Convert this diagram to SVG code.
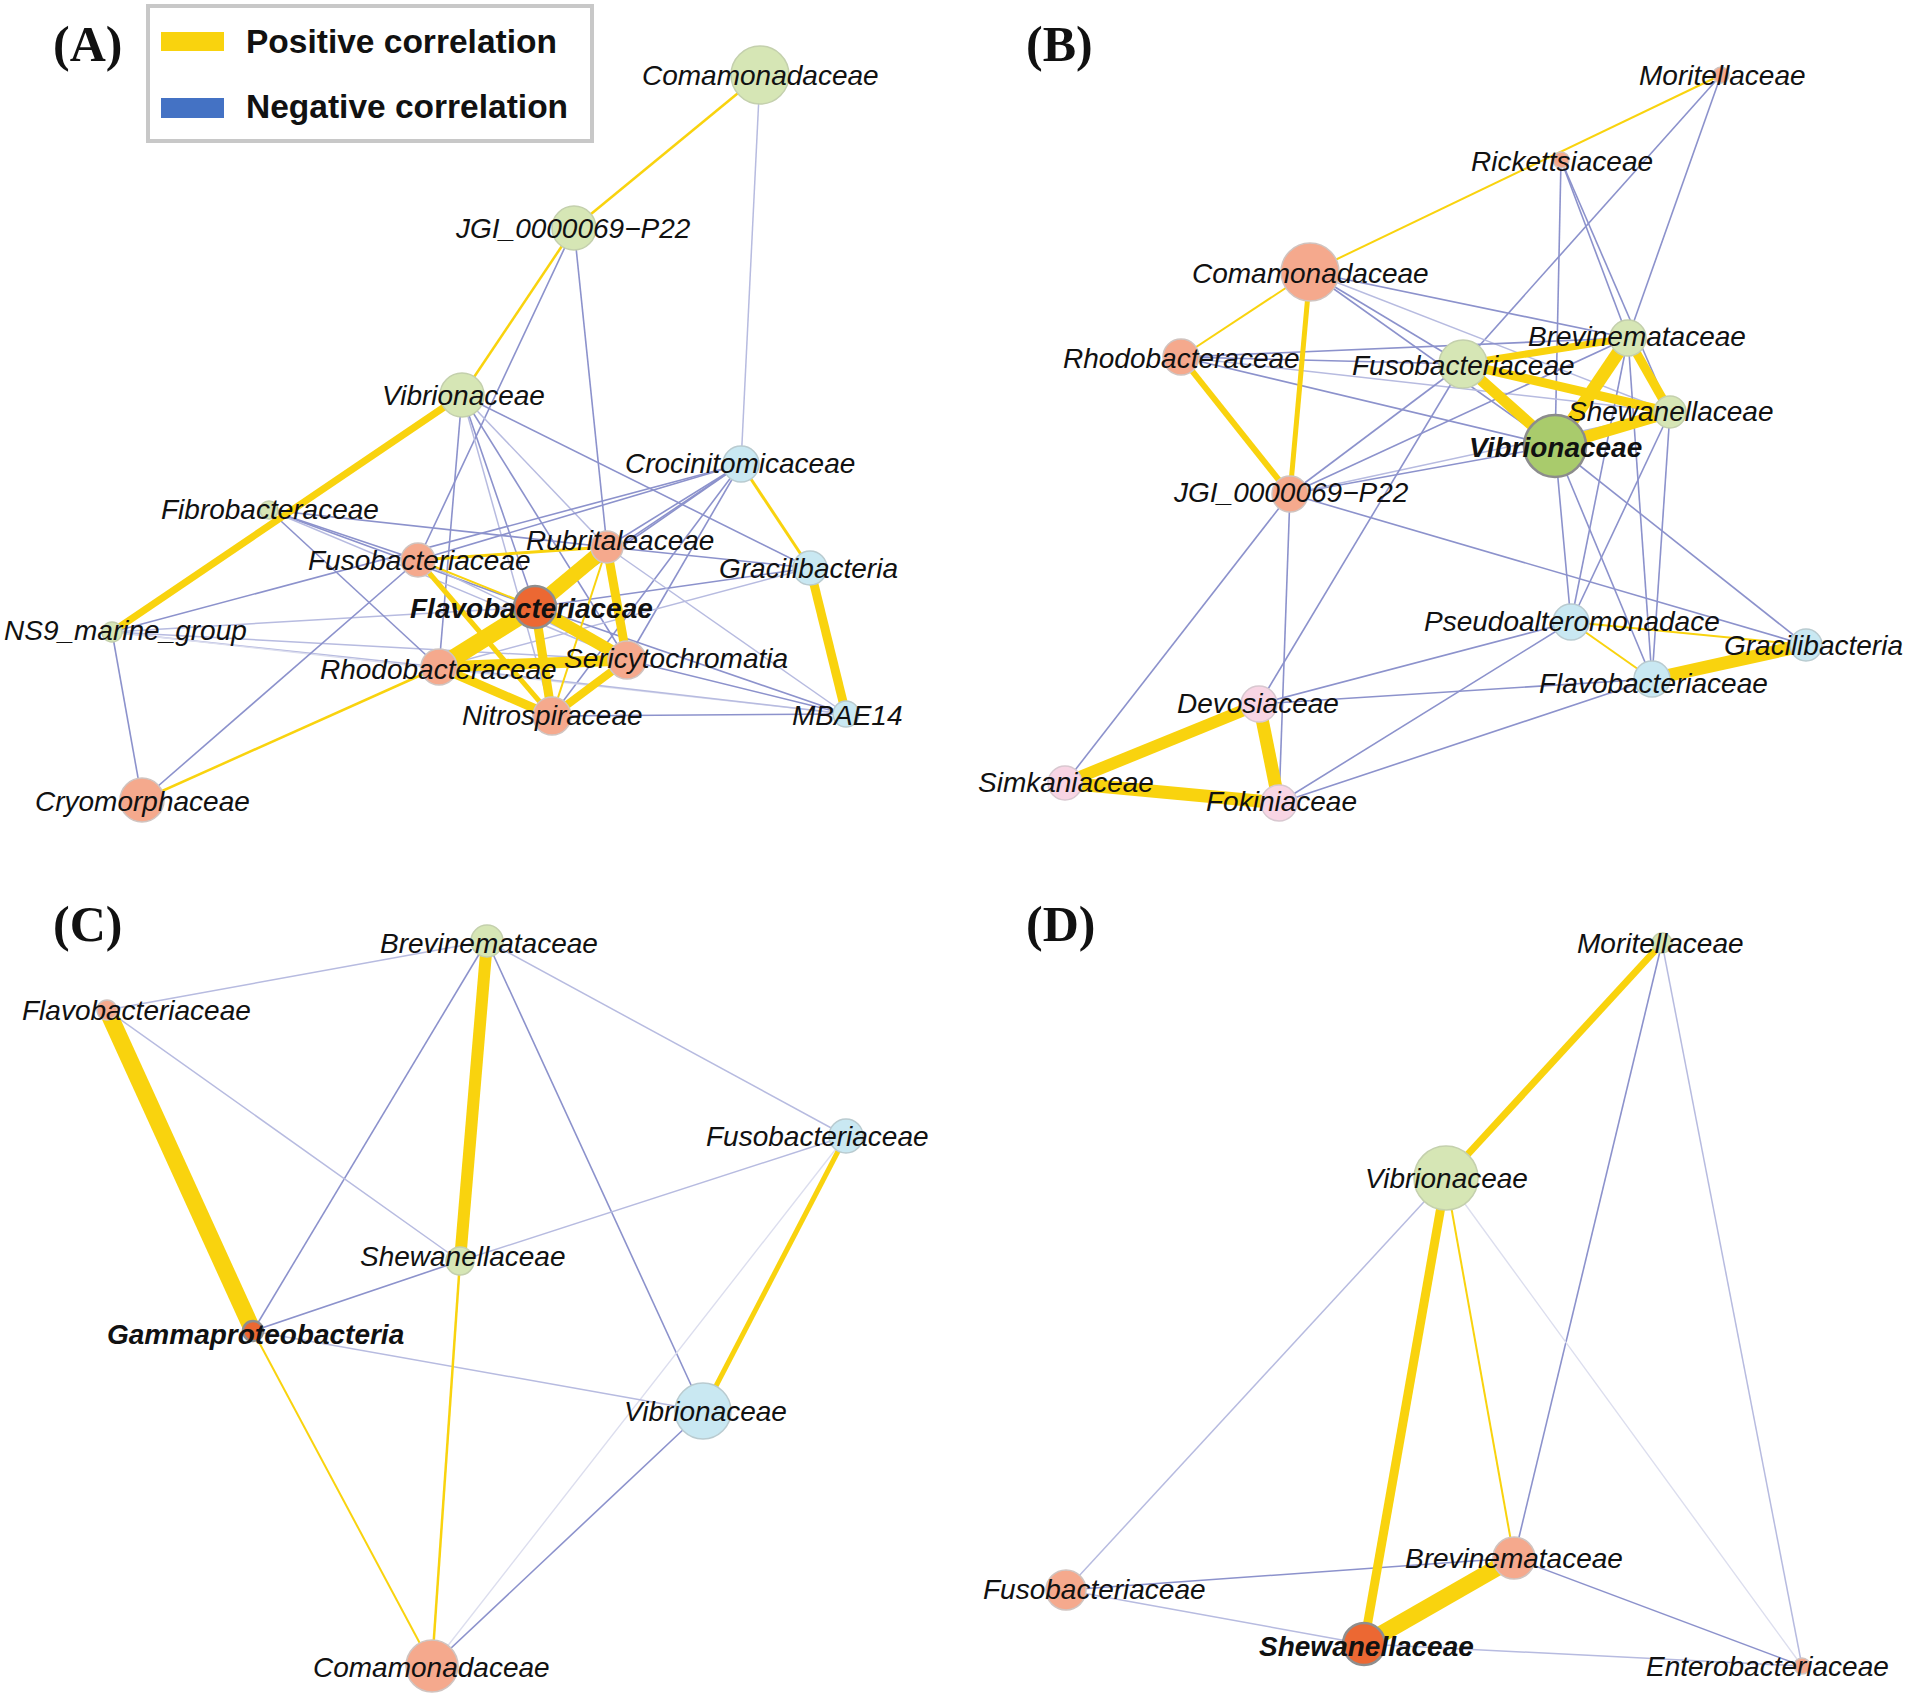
<svg xmlns="http://www.w3.org/2000/svg" width="1908" height="1696" viewBox="0 0 1908 1696">
<style>
.p{stroke:#f9d30e;fill:none}
.n{stroke:#8c92cc;stroke-width:1.6;fill:none}
.nl{stroke:#b7bbe0;stroke-width:1.5;fill:none}
.nx{stroke:#dcdeee;stroke-width:1.4;fill:none}
.g{fill:#d6e6b5;stroke:#c4d0ad;stroke-width:1.5}
.s{fill:#f5a98d;stroke:#d0c4c0;stroke-width:1.5}
.b{fill:#c9e8f2;stroke:#b9cbd0;stroke-width:1.5}
.k{fill:#f8d5e4;stroke:#d8c8d0;stroke-width:1.5}
.d{fill:#ec6833;stroke:#8e8e8e;stroke-width:2.5}
.vg{fill:#a9cb6c;stroke:#8c8c8c;stroke-width:2.5}
.t{font-family:"Liberation Sans",Arial,sans-serif;font-style:italic;font-size:28px;fill:#111}
.tb{font-weight:bold}
.pl{font-family:"Liberation Serif","Times New Roman",serif;font-weight:bold;font-size:50px;fill:#111}
.lg{font-family:"Liberation Sans",Arial,sans-serif;font-weight:bold;font-size:33.5px;fill:#111}
</style>
<rect width="1908" height="1696" fill="#ffffff"/>

<g id="legend">
<rect x="148" y="6" width="444" height="135" fill="#ffffff" stroke="#c8c8c8" stroke-width="4"/>
<rect x="161" y="32" width="63" height="19" fill="#f9d30e"/>
<rect x="161" y="98" width="63" height="20" fill="#4472c4"/>
<text class="lg" x="246" y="53">Positive correlation</text>
<text class="lg" x="246" y="118">Negative correlation</text>
</g>
<g id="panel-labels">
<text class="pl" x="53" y="61">(A)</text>
<text class="pl" x="1026" y="61">(B)</text>
<text class="pl" x="53" y="941">(C)</text>
<text class="pl" x="1026" y="941">(D)</text>
</g>

<g id="connectors">
<!-- Panel A negative -->
<line class="nl" x1="760" y1="75" x2="741" y2="464"/>
<line class="n" x1="574" y1="228" x2="418" y2="560"/>
<line class="n" x1="574" y1="228" x2="607" y2="547"/>
<line class="n" x1="462" y1="395" x2="439" y2="667"/>
<line class="n" x1="462" y1="395" x2="535" y2="607"/>
<line class="n" x1="462" y1="395" x2="627" y2="660"/>
<line class="nl" x1="462" y1="395" x2="552" y2="716"/>
<line class="nl" x1="462" y1="395" x2="607" y2="547"/>
<line class="n" x1="462" y1="395" x2="810" y2="568"/>
<line class="n" x1="741" y1="464" x2="418" y2="560"/>
<line class="n" x1="741" y1="464" x2="607" y2="547"/>
<line class="n" x1="741" y1="464" x2="535" y2="607"/>
<line class="n" x1="741" y1="464" x2="439" y2="667"/>
<line class="n" x1="741" y1="464" x2="627" y2="660"/>
<line class="n" x1="741" y1="464" x2="552" y2="716"/>
<line class="n" x1="112" y1="632" x2="741" y2="464"/>
<line class="nl" x1="112" y1="632" x2="535" y2="607"/>
<line class="nl" x1="112" y1="632" x2="439" y2="667"/>
<line class="nl" x1="112" y1="632" x2="627" y2="660"/>
<line class="nx" x1="112" y1="632" x2="846" y2="714"/>
<line class="n" x1="112" y1="632" x2="142" y2="800"/>
<line class="n" x1="142" y1="800" x2="418" y2="560"/>
<line class="n" x1="269" y1="510" x2="418" y2="560"/>
<line class="n" x1="269" y1="510" x2="535" y2="607"/>
<line class="n" x1="269" y1="510" x2="607" y2="547"/>
<line class="n" x1="269" y1="510" x2="439" y2="667"/>
<line class="nl" x1="269" y1="510" x2="627" y2="660"/>
<line class="n" x1="607" y1="547" x2="810" y2="568"/>
<line class="n" x1="535" y1="607" x2="810" y2="568"/>
<line class="nl" x1="439" y1="667" x2="810" y2="568"/>
<line class="nl" x1="607" y1="547" x2="846" y2="714"/>
<line class="n" x1="535" y1="607" x2="846" y2="714"/>
<line class="n" x1="627" y1="660" x2="846" y2="714"/>
<line class="n" x1="552" y1="716" x2="846" y2="714" stroke-width="2.5"/>
<line class="nl" x1="439" y1="667" x2="846" y2="714"/>
<line class="nl" x1="418" y1="560" x2="627" y2="660"/>
<!-- Panel A positive -->
<line class="p" x1="760" y1="75" x2="574" y2="228" stroke-width="2.5"/>
<line class="p" x1="574" y1="228" x2="462" y2="395" stroke-width="2.5"/>
<line class="p" x1="462" y1="395" x2="112" y2="632" stroke-width="7"/>
<line class="p" x1="741" y1="464" x2="810" y2="568" stroke-width="3"/>
<line class="p" x1="810" y1="568" x2="846" y2="714" stroke-width="9"/>
<line class="p" x1="142" y1="800" x2="439" y2="667" stroke-width="2.5"/>
<line class="p" x1="418" y1="560" x2="607" y2="547" stroke-width="3"/>
<line class="p" x1="418" y1="560" x2="552" y2="716" stroke-width="5"/>
<line class="p" x1="418" y1="560" x2="535" y2="607" stroke-width="2"/>
<line class="p" x1="607" y1="547" x2="552" y2="716" stroke-width="2"/>
<line class="p" x1="535" y1="607" x2="607" y2="547" stroke-width="15"/>
<line class="p" x1="535" y1="607" x2="439" y2="667" stroke-width="17"/>
<line class="p" x1="535" y1="607" x2="627" y2="660" stroke-width="12"/>
<line class="p" x1="535" y1="607" x2="552" y2="716" stroke-width="9"/>
<line class="p" x1="607" y1="547" x2="627" y2="660" stroke-width="9"/>
<line class="p" x1="439" y1="667" x2="627" y2="660" stroke-width="11"/>
<line class="p" x1="439" y1="667" x2="552" y2="716" stroke-width="9"/>
<line class="p" x1="627" y1="660" x2="552" y2="716" stroke-width="8"/>

<!-- Panel B negative -->
<line class="n" x1="1721" y1="75" x2="1463" y2="364"/>
<line class="n" x1="1721" y1="75" x2="1628" y2="338"/>
<line class="n" x1="1561" y1="160" x2="1555" y2="446"/>
<line class="n" x1="1561" y1="160" x2="1628" y2="338"/>
<line class="n" x1="1561" y1="160" x2="1670" y2="412"/>
<line class="n" x1="1310" y1="272" x2="1463" y2="364"/>
<line class="n" x1="1310" y1="272" x2="1628" y2="338"/>
<line class="nl" x1="1310" y1="272" x2="1670" y2="412"/>
<line class="n" x1="1310" y1="272" x2="1555" y2="446"/>
<line class="n" x1="1181" y1="357" x2="1463" y2="364"/>
<line class="n" x1="1181" y1="357" x2="1628" y2="338"/>
<line class="nl" x1="1181" y1="357" x2="1670" y2="412"/>
<line class="n" x1="1181" y1="357" x2="1555" y2="446"/>
<line class="n" x1="1290" y1="494" x2="1463" y2="364"/>
<line class="n" x1="1290" y1="494" x2="1628" y2="338"/>
<line class="n" x1="1290" y1="494" x2="1555" y2="446"/>
<line class="nl" x1="1290" y1="494" x2="1670" y2="412"/>
<line class="n" x1="1290" y1="494" x2="1806" y2="645"/>
<line class="n" x1="1290" y1="494" x2="1065" y2="783"/>
<line class="n" x1="1290" y1="494" x2="1279" y2="803"/>
<line class="n" x1="1463" y1="364" x2="1259" y2="704"/>
<line class="n" x1="1555" y1="446" x2="1571" y2="622"/>
<line class="n" x1="1555" y1="446" x2="1652" y2="679"/>
<line class="n" x1="1555" y1="446" x2="1806" y2="645"/>
<line class="n" x1="1670" y1="412" x2="1571" y2="622"/>
<line class="n" x1="1670" y1="412" x2="1652" y2="679"/>
<line class="n" x1="1628" y1="338" x2="1571" y2="622"/>
<line class="n" x1="1628" y1="338" x2="1652" y2="679"/>
<line class="n" x1="1571" y1="622" x2="1259" y2="704"/>
<line class="n" x1="1571" y1="622" x2="1279" y2="803"/>
<line class="n" x1="1652" y1="679" x2="1259" y2="704"/>
<line class="n" x1="1652" y1="679" x2="1279" y2="803"/>
<!-- Panel B positive -->
<line class="p" x1="1721" y1="75" x2="1310" y2="272" stroke-width="2"/>
<line class="p" x1="1310" y1="272" x2="1181" y2="357" stroke-width="2"/>
<line class="p" x1="1310" y1="272" x2="1290" y2="494" stroke-width="5"/>
<line class="p" x1="1181" y1="357" x2="1290" y2="494" stroke-width="6"/>
<line class="p" x1="1463" y1="364" x2="1628" y2="338" stroke-width="7"/>
<line class="p" x1="1463" y1="364" x2="1670" y2="412" stroke-width="9"/>
<line class="p" x1="1463" y1="364" x2="1555" y2="446" stroke-width="11"/>
<line class="p" x1="1628" y1="338" x2="1555" y2="446" stroke-width="13"/>
<line class="p" x1="1628" y1="338" x2="1670" y2="412" stroke-width="9"/>
<line class="p" x1="1555" y1="446" x2="1670" y2="412" stroke-width="12"/>
<line class="p" x1="1571" y1="622" x2="1806" y2="645" stroke-width="2"/>
<line class="p" x1="1571" y1="622" x2="1652" y2="679" stroke-width="2"/>
<line class="p" x1="1652" y1="679" x2="1806" y2="645" stroke-width="13"/>
<line class="p" x1="1259" y1="704" x2="1065" y2="783" stroke-width="12"/>
<line class="p" x1="1259" y1="704" x2="1279" y2="803" stroke-width="13"/>
<line class="p" x1="1065" y1="783" x2="1279" y2="803" stroke-width="13"/>

<!-- Panel C negative -->
<line class="nl" x1="487" y1="941" x2="107" y2="1010"/>
<line class="n" x1="487" y1="941" x2="253" y2="1331"/>
<line class="n" x1="487" y1="941" x2="703" y2="1411"/>
<line class="nl" x1="487" y1="941" x2="846" y2="1136"/>
<line class="nl" x1="107" y1="1010" x2="460" y2="1261"/>
<line class="nl" x1="846" y1="1136" x2="460" y2="1261"/>
<line class="nx" x1="846" y1="1136" x2="432" y2="1666"/>
<line class="n" x1="460" y1="1261" x2="253" y2="1331" stroke-width="2"/>
<line class="nl" x1="253" y1="1331" x2="703" y2="1411"/>
<line class="n" x1="703" y1="1411" x2="432" y2="1666"/>
<!-- Panel C positive -->
<line class="p" x1="107" y1="1010" x2="253" y2="1331" stroke-width="17"/>
<line class="p" x1="487" y1="941" x2="460" y2="1261" stroke-width="12"/>
<line class="p" x1="846" y1="1136" x2="703" y2="1411" stroke-width="5"/>
<line class="p" x1="253" y1="1331" x2="432" y2="1666" stroke-width="2"/>
<line class="p" x1="460" y1="1261" x2="432" y2="1666" stroke-width="2.5"/>

<!-- Panel D negative -->
<line class="n" x1="1662" y1="943" x2="1514" y2="1558"/>
<line class="nl" x1="1662" y1="943" x2="1802" y2="1666"/>
<line class="nl" x1="1446" y1="1178" x2="1066" y2="1590"/>
<line class="nx" x1="1446" y1="1178" x2="1802" y2="1666"/>
<line class="n" x1="1066" y1="1590" x2="1514" y2="1558"/>
<line class="nl" x1="1066" y1="1590" x2="1364" y2="1644"/>
<line class="nl" x1="1364" y1="1644" x2="1802" y2="1666"/>
<line class="n" x1="1514" y1="1558" x2="1802" y2="1666"/>
<!-- Panel D positive -->
<line class="p" x1="1662" y1="943" x2="1446" y2="1178" stroke-width="7"/>
<line class="p" x1="1446" y1="1178" x2="1364" y2="1644" stroke-width="9"/>
<line class="p" x1="1446" y1="1178" x2="1514" y2="1558" stroke-width="2"/>
<line class="p" x1="1514" y1="1558" x2="1364" y2="1644" stroke-width="17"/>
</g>

<!-- Panel A nodes -->
<g id="A-Comamonadaceae"><circle class="g" cx="760" cy="75" r="29"/><text class="t" x="642" y="85">Comamonadaceae</text></g>
<g id="A-JGI"><circle class="g" cx="574" cy="228" r="22"/><text class="t" x="456" y="238">JGI_0000069−P22</text></g>
<g id="A-Vibrionaceae"><circle class="g" cx="462" cy="395" r="22"/><text class="t" x="382" y="405">Vibrionaceae</text></g>
<g id="A-Crocinitomicaceae"><circle class="b" cx="741" cy="464" r="18"/><text class="t" x="625" y="473">Crocinitomicaceae</text></g>
<g id="A-Fibrobacteraceae"><circle class="g" cx="269" cy="510" r="9"/><text class="t" x="161" y="519">Fibrobacteraceae</text></g>
<g id="A-Rubritaleaceae"><circle class="s" cx="607" cy="547" r="16"/><text class="t" x="526" y="550">Rubritaleaceae</text></g>
<g id="A-Fusobacteriaceae"><circle class="s" cx="418" cy="560" r="17"/><text class="t" x="308" y="570">Fusobacteriaceae</text></g>
<g id="A-Gracilibacteria"><circle class="b" cx="810" cy="568" r="17"/><text class="t" x="719" y="578">Gracilibacteria</text></g>
<g id="A-Flavobacteriaceae"><circle class="d" cx="535" cy="607" r="21"/><text class="t tb" x="410" y="618">Flavobacteriaceae</text></g>
<g id="A-NS9"><circle class="g" cx="112" cy="632" r="10"/><text class="t" x="4" y="640">NS9_marine_group</text></g>
<g id="A-Rhodobacteraceae"><circle class="s" cx="439" cy="667" r="18"/><text class="t" x="320" y="679">Rhodobacteraceae</text></g>
<g id="A-Sericytochromatia"><circle class="s" cx="627" cy="660" r="19"/><text class="t" x="564" y="668">Sericytochromatia</text></g>
<g id="A-Nitrospiraceae"><circle class="s" cx="552" cy="716" r="19"/><text class="t" x="462" y="725">Nitrospiraceae</text></g>
<g id="A-MBAE14"><circle class="b" cx="846" cy="714" r="13"/><text class="t" x="792" y="725">MBAE14</text></g>
<g id="A-Cryomorphaceae"><circle class="s" cx="142" cy="800" r="22"/><text class="t" x="35" y="811">Cryomorphaceae</text></g>

<!-- Panel B nodes -->
<g id="B-Moritellaceae"><circle class="s" cx="1721" cy="75" r="8"/><text class="t" x="1639" y="85">Moritellaceae</text></g>
<g id="B-Rickettsiaceae"><circle class="s" cx="1561" cy="160" r="8"/><text class="t" x="1471" y="171">Rickettsiaceae</text></g>
<g id="B-Comamonadaceae"><circle class="s" cx="1310" cy="272" r="29"/><text class="t" x="1192" y="283">Comamonadaceae</text></g>
<g id="B-Rhodobacteraceae"><circle class="s" cx="1181" cy="357" r="18"/><text class="t" x="1063" y="368">Rhodobacteraceae</text></g>
<g id="B-Brevinemataceae"><circle class="g" cx="1628" cy="338" r="18"/><text class="t" x="1528" y="346">Brevinemataceae</text></g>
<g id="B-Fusobacteriaceae"><circle class="g" cx="1463" cy="364" r="24"/><text class="t" x="1352" y="375">Fusobacteriaceae</text></g>
<g id="B-Shewanellaceae"><circle class="g" cx="1670" cy="412" r="16"/><text class="t" x="1568" y="421">Shewanellaceae</text></g>
<g id="B-Vibrionaceae"><circle class="vg" cx="1555" cy="446" r="31"/><text class="t tb" x="1469" y="457">Vibrionaceae</text></g>
<g id="B-JGI"><circle class="s" cx="1290" cy="494" r="18"/><text class="t" x="1174" y="502">JGI_0000069−P22</text></g>
<g id="B-Pseudoalteromonadace"><circle class="b" cx="1571" cy="622" r="18"/><text class="t" x="1424" y="631">Pseudoalteromonadace</text></g>
<g id="B-Gracilibacteria"><circle class="b" cx="1806" cy="645" r="16"/><text class="t" x="1724" y="655">Gracilibacteria</text></g>
<g id="B-Flavobacteriaceae"><circle class="b" cx="1652" cy="679" r="18"/><text class="t" x="1539" y="693">Flavobacteriaceae</text></g>
<g id="B-Devosiaceae"><circle class="k" cx="1259" cy="704" r="18"/><text class="t" x="1177" y="713">Devosiaceae</text></g>
<g id="B-Simkaniaceae"><circle class="k" cx="1065" cy="783" r="17"/><text class="t" x="978" y="792">Simkaniaceae</text></g>
<g id="B-Fokiniaceae"><circle class="k" cx="1279" cy="803" r="18"/><text class="t" x="1206" y="811">Fokiniaceae</text></g>

<!-- Panel C nodes -->
<g id="C-Brevinemataceae"><circle class="g" cx="487" cy="941" r="16"/><text class="t" x="380" y="953">Brevinemataceae</text></g>
<g id="C-Flavobacteriaceae"><circle class="s" cx="107" cy="1010" r="10"/><text class="t" x="22" y="1020">Flavobacteriaceae</text></g>
<g id="C-Fusobacteriaceae"><circle class="b" cx="846" cy="1136" r="17"/><text class="t" x="706" y="1146">Fusobacteriaceae</text></g>
<g id="C-Shewanellaceae"><circle class="g" cx="460" cy="1261" r="14"/><text class="t" x="360" y="1266">Shewanellaceae</text></g>
<g id="C-Gammaproteobacteria"><circle class="d" cx="253" cy="1331" r="10"/><text class="t tb" x="107" y="1344">Gammaproteobacteria</text></g>
<g id="C-Vibrionaceae"><circle class="b" cx="703" cy="1411" r="28"/><text class="t" x="624" y="1421">Vibrionaceae</text></g>
<g id="C-Comamonadaceae"><circle class="s" cx="432" cy="1666" r="26"/><text class="t" x="313" y="1677">Comamonadaceae</text></g>

<!-- Panel D nodes -->
<g id="D-Moritellaceae"><circle class="g" cx="1662" cy="943" r="10"/><text class="t" x="1577" y="953">Moritellaceae</text></g>
<g id="D-Vibrionaceae"><circle class="g" cx="1446" cy="1178" r="32"/><text class="t" x="1365" y="1188">Vibrionaceae</text></g>
<g id="D-Brevinemataceae"><circle class="s" cx="1514" cy="1558" r="21"/><text class="t" x="1405" y="1568">Brevinemataceae</text></g>
<g id="D-Fusobacteriaceae"><circle class="s" cx="1066" cy="1590" r="20"/><text class="t" x="983" y="1599">Fusobacteriaceae</text></g>
<g id="D-Shewanellaceae"><circle class="d" cx="1364" cy="1644" r="21"/><text class="t tb" x="1259" y="1656">Shewanellaceae</text></g>
<g id="D-Enterobacteriaceae"><circle class="s" cx="1802" cy="1666" r="8"/><text class="t" x="1646" y="1676">Enterobacteriaceae</text></g>
</svg>
